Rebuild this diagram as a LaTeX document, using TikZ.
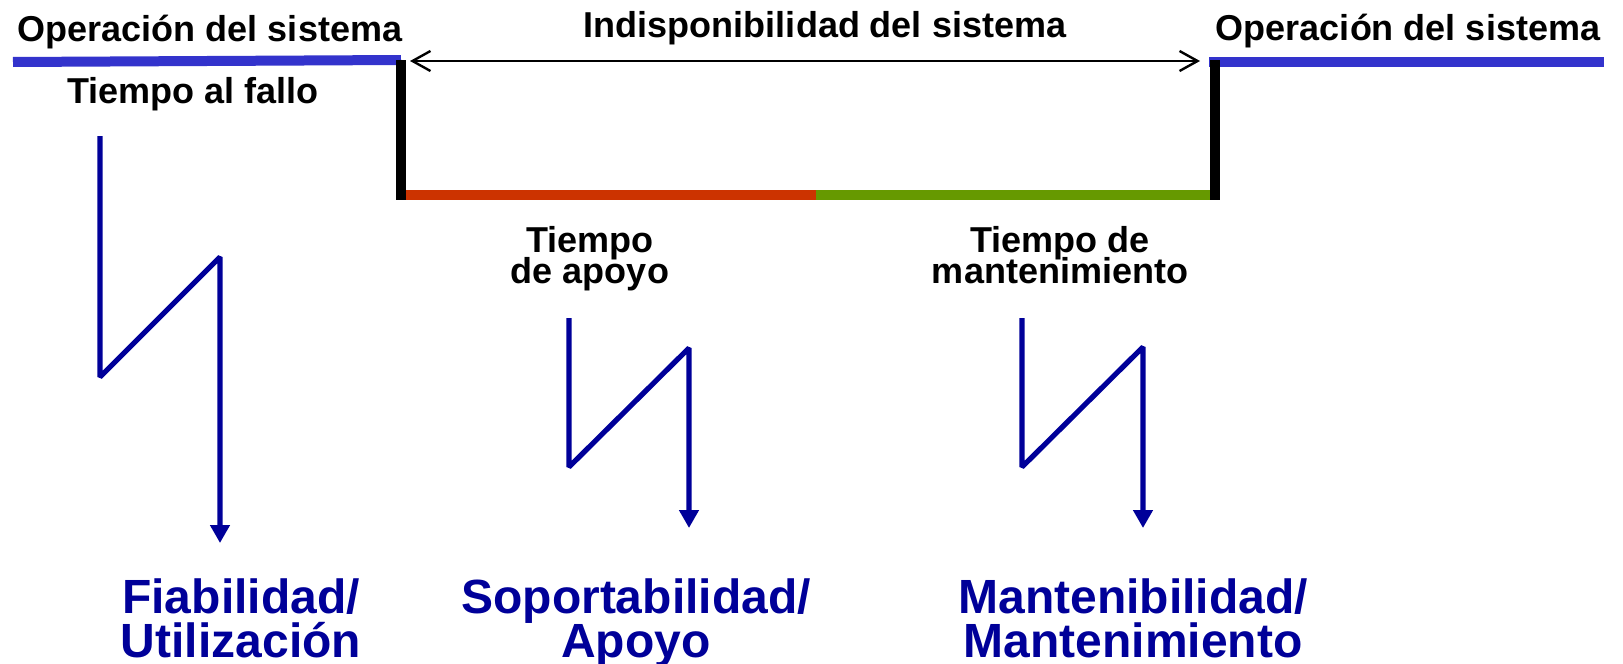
\documentclass[tikz,border=0pt]{standalone}
\usepackage{fontspec}
\setmainfont{Liberation Sans}
\usetikzlibrary{arrows.meta}

\definecolor{opblue}{RGB}{51,51,204}
\definecolor{navy}{RGB}{0,0,153}
\definecolor{apred}{RGB}{204,51,0}
\definecolor{mtgreen}{RGB}{102,153,0}

\begin{document}
\begin{tikzpicture}[x=0.5pt, y=-0.5pt, inner sep=0pt]
    \tikzstyle{lbl}=[font=\fontsize{18}{17.5}\selectfont\bfseries, text=black, align=center, anchor=base]
    \tikzstyle{big}=[font=\fontsize{24}{22}\selectfont\bfseries, text=navy, align=center, anchor=base]
    \tikzstyle{op}=[draw=opblue, line width=5pt]
    \tikzstyle{bar}=[draw=black, line width=5pt]
    \tikzstyle{zig}=[-{Triangle[length=9pt,width=9.5pt]}, draw=navy, line width=2.6pt, line join=bevel]
    \tikzstyle{span}=[{Straight Barb[length=9pt,width=10pt]}-{Straight Barb[length=9pt,width=10pt]}, line width=1.2pt]

    \useasboundingbox (0,0) rectangle (1623,664);

    % corners of the outage
    \coordinate (upL) at (401,60);
    \coordinate (dnL) at (401,200);
    \coordinate (upR) at (1215,60);
    \coordinate (dnR) at (1215,200);
    \coordinate (split) at (816,195);
    \coordinate (opL0) at (13,62);
    \coordinate (opR1) at (1604,62);

    % texts (base = last line)
    \node[lbl] (opL) at (210,41) {Operación del sistema};
    \node[lbl] (opR) at (1408,40) {Operación del sistema};
    \node[lbl] (indisp) at (825,37) {Indisponibilidad del sistema};
    \node[lbl] (fallo) at (193,103) {Tiempo al fallo};
    \node[lbl] (apoyo) at (590,283) {Tiempo\\[-2pt]de apoyo};
    \node[lbl] (mant) at (1060,283) {Tiempo de\\[-2pt]mantenimiento};
    \node[big] (fiab) at (241,657) {Fiabilidad/\\Utilización};
    \node[big] (soport) at (636,657) {Soportabilidad/\\Apoyo};
    \node[big] (mantb) at (1133,657) {Mantenibilidad/\\Mantenimiento};

    % time line
    \draw[op] (opL0) -- (upL -| dnL) ++(5,2);
    \draw[op] ([xshift=-3pt] upR |- opR1) -- (opR1);
    \draw[draw=apred, line width=5pt] ([xshift=2.5pt] dnL |- split) -- (split);
    \draw[draw=mtgreen, line width=5pt] (split) -- ([xshift=-2.5pt] dnR |- split);
    \draw[bar] (upL) -- (dnL);
    \draw[bar] (upR) -- (dnR);
    \draw[span, shorten <=4.5pt, shorten >=7.5pt] ([yshift=-0.5pt] upL) -- ([yshift=-0.5pt] upR);

    % zigzags
    \coordinate (z1a) at (100,136);
    \coordinate (z1b) at (100,377);
    \coordinate (z1c) at (220,257);
    \coordinate (z1d) at (220,543);
    \coordinate (z2a) at (569,318);
    \coordinate (z2b) at (569,467);
    \coordinate (z2c) at (689,348);
    \coordinate (z2d) at (689,528);
    \coordinate (z3a) at (1022,318);
    \coordinate (z3b) at (1022,467);
    \coordinate (z3c) at (1143,347);
    \coordinate (z3d) at (1143,528);

    \draw[zig] (z1a) -- (z1b) -- (z1c) -- (z1d);
    \draw[zig] (z2a) -- (z2b) -- (z2c) -- (z2d);
    \draw[zig] (z3a) -- (z3b) -- (z3c) -- (z3d);
\end{tikzpicture}
\end{document}
